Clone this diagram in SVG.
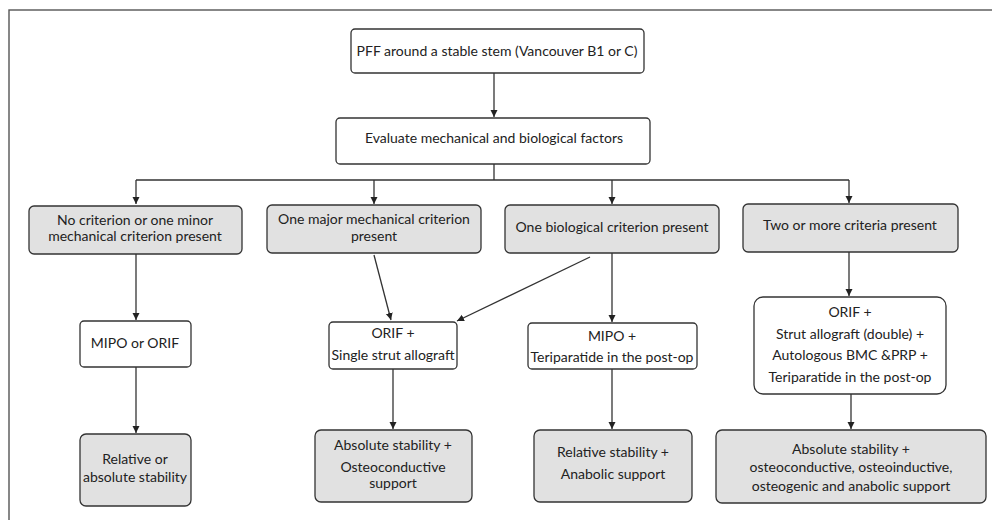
<svg xmlns="http://www.w3.org/2000/svg" width="992" height="520" viewBox="0 0 992 520">
<defs>
<marker id="ah" markerWidth="8" markerHeight="8" refX="7" refY="4" orient="auto" markerUnits="userSpaceOnUse">
<path d="M0,0.5 L7,4 L0,7.5 Z" fill="#222"/>
</marker>
<style>
.box{fill:#fff;stroke:#333;stroke-width:1.3}
.g{fill:#e1e1e1}
text{font-family:Lato,"Open Sans","Liberation Sans",sans-serif;font-size:14px;fill:#222;text-anchor:middle}
.c{stroke:#333;stroke-width:1.3;fill:none}
</style>
</defs>
<rect width="992" height="520" fill="#fff"/>
<rect x="9" y="10" width="1000" height="600" fill="none" stroke="#555" stroke-width="1.4"/>

<g id="connectors">
<path class="c" d="M494,73 V117" marker-end="url(#ah)"/>
<path class="c" d="M494,164 V180 M136,180 H849"/>
<path class="c" d="M136,180 V204" marker-end="url(#ah)"/>
<path class="c" d="M374,180 V204" marker-end="url(#ah)"/>
<path class="c" d="M612,180 V204" marker-end="url(#ah)"/>
<path class="c" d="M849,180 V203" marker-end="url(#ah)"/>
<path class="c" d="M136,254 V320" marker-end="url(#ah)"/>
<path class="c" d="M136,367 V433" marker-end="url(#ah)"/>
<path class="c" d="M374,255 L391,320" marker-end="url(#ah)"/>
<path class="c" d="M590,257 L457,321" marker-end="url(#ah)"/>
<path class="c" d="M393,369 V429" marker-end="url(#ah)"/>
<path class="c" d="M612,253 V322" marker-end="url(#ah)"/>
<path class="c" d="M612,369 V429" marker-end="url(#ah)"/>
<path class="c" d="M849,252 V296" marker-end="url(#ah)"/>
<path class="c" d="M851,394 V429" marker-end="url(#ah)"/>
</g>

<g id="n1"><rect class="box" x="351" y="29" width="293" height="44" rx="4"/>
<text x="497" y="56">PFF around a stable stem (Vancouver B1 or C)</text></g>
<g id="n2"><rect class="box" x="336" y="118" width="314" height="46" rx="4"/>
<text x="494" y="143">Evaluate mechanical and biological factors</text></g>

<g id="a1"><rect class="box g" x="29" y="206" width="213" height="48" rx="5"/>
<text x="135" y="225">No criterion or one minor</text>
<text x="135" y="241">mechanical criterion present</text></g>
<g id="b1"><rect class="box g" x="267" y="205" width="214" height="48" rx="5"/>
<text x="374" y="224">One major mechanical criterion</text>
<text x="374" y="241">present</text></g>
<g id="c1"><rect class="box g" x="505" y="205" width="214" height="48" rx="5"/>
<text x="612" y="232">One biological criterion present</text></g>
<g id="d1"><rect class="box g" x="743" y="204" width="215" height="48" rx="5"/>
<text x="850" y="230">Two or more criteria present</text></g>

<g id="a2"><rect class="box" x="80" y="321" width="111" height="46" rx="4"/>
<text x="135" y="348">MIPO or ORIF</text></g>
<g id="b2"><rect class="box" x="329" y="322" width="128" height="47" rx="4"/>
<text x="393" y="338">ORIF +</text>
<text x="393" y="360">Single strut allograft</text></g>
<g id="c2"><rect class="box" x="528" y="323" width="169" height="46" rx="4"/>
<text x="612" y="341">MIPO +</text>
<text x="612" y="362">Teriparatide in the post-op</text></g>
<g id="d2"><rect class="box" x="754" y="297" width="192" height="97" rx="9"/>
<text x="850" y="317">ORIF +</text>
<text x="850" y="339">Strut allograft (double) +</text>
<text x="850" y="360">Autologous BMC &amp;PRP +</text>
<text x="850" y="382">Teriparatide in the post-op</text></g>

<g id="a3"><rect class="box g" x="80" y="434" width="111" height="72" rx="6"/>
<text x="135" y="464">Relative or</text>
<text x="135" y="482">absolute stability</text></g>
<g id="b3"><rect class="box g" x="315" y="430" width="157" height="72" rx="6"/>
<text x="393" y="450">Absolute stability +</text>
<text x="393" y="472">Osteoconductive</text>
<text x="393" y="488">support</text></g>
<g id="c3"><rect class="box g" x="534" y="430" width="158" height="72" rx="6"/>
<text x="613" y="457">Relative stability +</text>
<text x="613" y="479">Anabolic support</text></g>
<g id="d3"><rect class="box g" x="716" y="430" width="270" height="73" rx="6"/>
<text x="851" y="454">Absolute stability +</text>
<text x="851" y="472">osteoconductive, osteoinductive,</text>
<text x="851" y="491">osteogenic and anabolic support</text></g>
</svg>
